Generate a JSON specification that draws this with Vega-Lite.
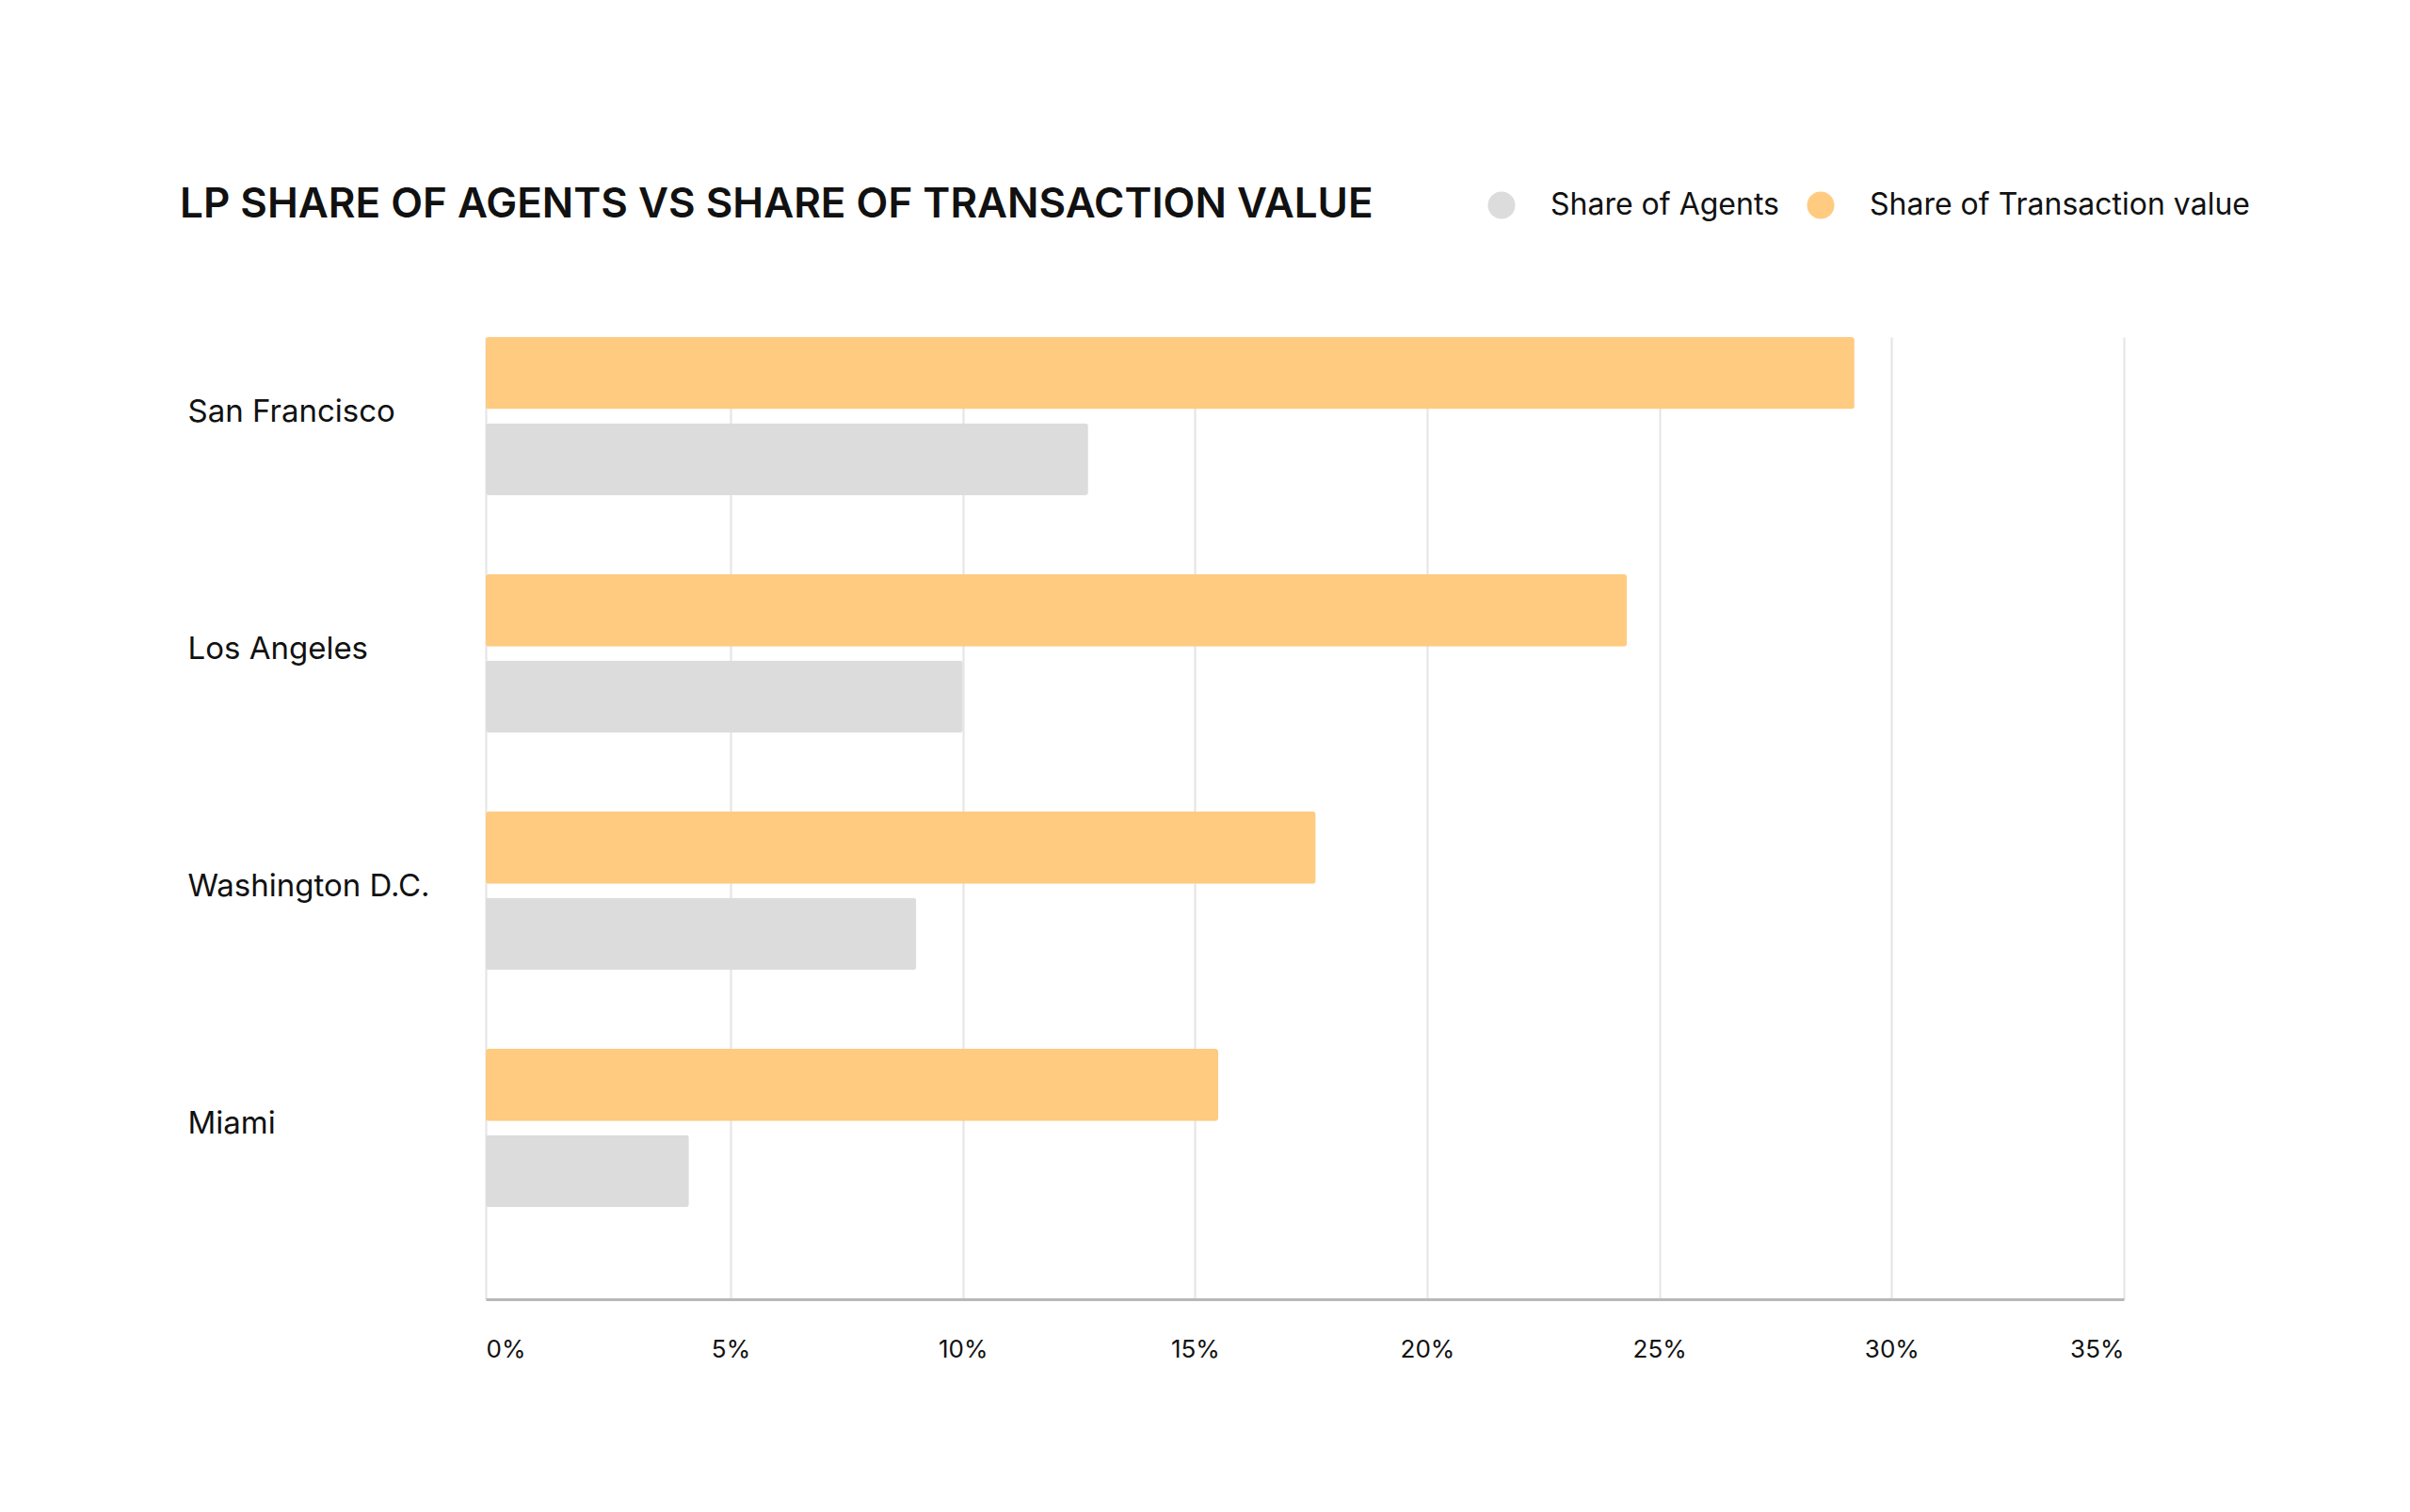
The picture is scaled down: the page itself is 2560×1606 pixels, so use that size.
{
  "$schema": "https://vega.github.io/schema/vega-lite/v6.json",
  "autosize": {"type": "none"},
  "width": 1740,
  "height": 1022,
  "padding": {"left": 516, "top": 358, "right": 304, "bottom": 226},
  "background": "#FFFFFF",
  "title": {
    "text": "LP SHARE OF AGENTS VS SHARE OF TRANSACTION VALUE",
    "anchor": "start",
    "frame": "group",
    "dx": -325,
    "offset": -38,
    "font": "Inter",
    "fontSize": 44,
    "fontWeight": 600,
    "color": "#111111"
  },
  "data": {
    "values": [
      {"city": "San Francisco", "series": "Share of Transaction value", "value": 29.2},
      {"city": "San Francisco", "series": "Share of Agents", "value": 12.7},
      {"city": "Los Angeles", "series": "Share of Transaction value", "value": 24.3},
      {"city": "Los Angeles", "series": "Share of Agents", "value": 10.0},
      {"city": "Washington D.C.", "series": "Share of Transaction value", "value": 17.6},
      {"city": "Washington D.C.", "series": "Share of Agents", "value": 9.0},
      {"city": "Miami", "series": "Share of Transaction value", "value": 15.5},
      {"city": "Miami", "series": "Share of Agents", "value": 4.15}
    ]
  },
  "mark": {"type": "bar", "cornerRadius": 3},
  "encoding": {
    "y": {
      "field": "city",
      "type": "nominal",
      "sort": ["San Francisco", "Los Angeles", "Washington D.C.", "Miami"],
      "scale": {"paddingInner": 0.333, "paddingOuter": 0.194, "align": 0},
      "axis": {
        "title": null,
        "domain": false,
        "ticks": false,
        "grid": false,
        "labelAlign": "left",
        "labelPadding": 317,
        "labelFont": "Inter",
        "labelFontSize": 33,
        "labelColor": "#111111",
        "labelLimit": 400,
        "labelOffset": -4
      }
    },
    "yOffset": {
      "field": "series",
      "type": "nominal",
      "sort": ["Share of Transaction value", "Share of Agents"],
      "scale": {"paddingInner": 0.163, "paddingOuter": 0}
    },
    "x": {
      "field": "value",
      "type": "quantitative",
      "scale": {"domain": [0, 5, 35], "range": [0, 260, 1740], "nice": false, "zero": false},
      "axis": {
        "title": null,
        "values": [0, 5, 10, 15, 20, 25, 30, 35],
        "labelExpr": "datum.value + '%'",
        "grid": true,
        "gridColor": "#E4E4E4",
        "gridWidth": 2,
        "domainColor": "#B8B8B8",
        "domainWidth": 3,
        "ticks": false,
        "labelPadding": 40,
        "labelFont": "Inter",
        "labelFontSize": 26,
        "labelColor": "#111111"
      }
    },
    "fill": {
      "field": "series",
      "type": "nominal",
      "scale": {"domain": ["Share of Agents", "Share of Transaction value"], "range": ["#DCDCDC", "#FECB80"]},
      "legend": {
        "title": null,
        "orient": "none",
        "legendX": 1063,
        "legendY": -156,
        "direction": "horizontal",
        "symbolType": "circle",
        "symbolSize": 841,
        "symbolStrokeWidth": 0,
        "labelFont": "Inter",
        "labelFontSize": 32,
        "labelColor": "#111111",
        "labelLimit": 700,
        "labelOffset": 36,
        "columnPadding": 28,
        "encode": {
          "symbols": {
            "update": {
              "fill": {"signal": "datum.value == 'Share of Agents' ? '#DDDDDD' : '#EDB85E'"}
            }
          }
        }
      }
    }
  },
  "config": {"view": {"stroke": null}}
}
